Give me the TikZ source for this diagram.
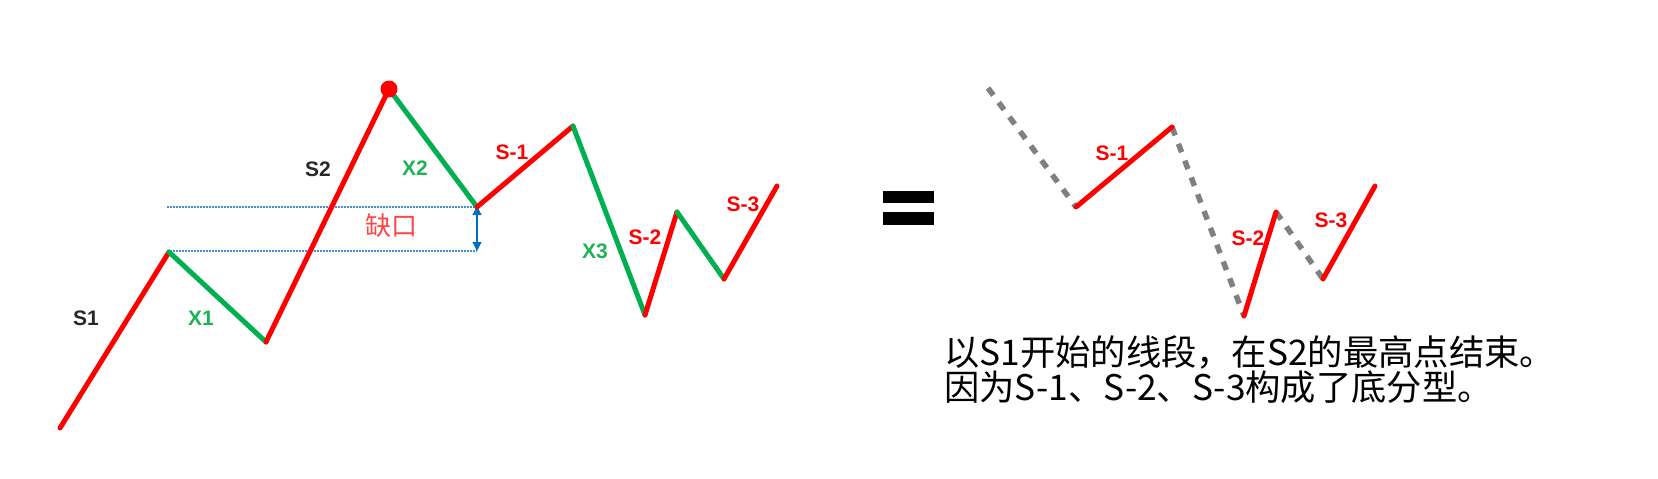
\documentclass[tikz,border=0pt]{standalone}
\usepackage{fontspec}
\setmainfont{Liberation Sans}
\newfontfamily\cjk{Noto Sans CJK SC}
\usetikzlibrary{arrows.meta}
\definecolor{lred}{RGB}{255,0,0}
\definecolor{lgreen}{RGB}{0,176,80}
\definecolor{tgreen}{RGB}{30,178,85}
\definecolor{tdark}{RGB}{40,40,40}
\definecolor{gapred}{RGB}{255,70,70}
\definecolor{dblue}{RGB}{0,112,192}
\definecolor{dotblue}{RGB}{70,140,215}
\definecolor{ghostgray}{RGB}{128,128,128}
\begin{document}
\begin{tikzpicture}[x=1pt,y=-1pt,
  upseg/.style={draw=lred,line width=5pt,line cap=round},
  downseg/.style={draw=lgreen,line width=5pt,line cap=round},
  ghostseg/.style={draw=ghostgray,line width=5.5pt,dash pattern=on 9pt off 9pt},
  gapline/.style={draw=dotblue,line width=1.3pt,dash pattern=on 1.5pt off 1.5pt},
  lab/.style={font=\fontsize{21}{21}\selectfont\bfseries,inner sep=0pt},
  blab/.style={lab,text=tdark},
  glab/.style={lab,text=tgreen},
  rlab/.style={lab,text=lred},
  note/.style={font=\cjk\fontsize{35.3}{35}\selectfont,inner sep=0pt,anchor=west}]
\useasboundingbox (0,0) rectangle (1658,479);
% left chart points
\coordinate (a0) at (60,428);
\coordinate (a1) at (169,252);
\coordinate (a2) at (266,342);
\coordinate (a3) at (389,89);
\coordinate (a4) at (477,207);
\coordinate (a5) at (573,126);
\coordinate (a6) at (645,315);
\coordinate (a7) at (677,212);
\coordinate (a8) at (724,279);
\coordinate (a9) at (777,186);
\coordinate (g1) at (167,207);
\coordinate (g2) at (167,251);
\coordinate (g3) at (477,251);
% gap lines
\draw[gapline] (g1) -- (a4);
\draw[gapline] (g2) -- (g3);
\draw[dblue,line width=1.2pt,{Triangle[length=9pt,width=9pt]}-{Triangle[length=9pt,width=9pt]}] ([yshift=1pt]a4) -- (g3);
% segments
\draw[upseg] (a0) -- (a1);
\draw[downseg] (a1) -- (a2);
\draw[upseg] (a2) -- (a3);
\draw[downseg] (a3) -- (a4);
\draw[upseg] (a4) -- (a5);
\draw[downseg] (a5) -- (a6);
\draw[upseg] (a6) -- (a7);
\draw[downseg] (a7) -- (a8);
\draw[upseg] (a8) -- (a9);
\fill[lred] (a3) circle (8.5pt);
% labels
\node[blab] (ls1) at (86,318) {S1};
\node[glab] (lx1) at (201,318) {X1};
\node[blab] (ls2) at (318,169) {S2};
\node[glab] (lx2) at (415,168) {X2};
\node[font=\cjk\fontsize{26}{26}\selectfont,text=gapred,inner sep=0pt] (lgap) at (391,226) {缺口};
\node[rlab] (lsm1) at (512,152) {S-1};
\node[glab] (lx3) at (595,251) {X3};
\node[rlab] (lsm2) at (645,237) {S-2};
\node[rlab] (lsm3) at (743,204) {S-3};
% equals sign
\fill[black] (883,191) rectangle (934,203);
\fill[black] (883,212) rectangle (934,225);
% right chart
\coordinate (b0) at (988,88);
\coordinate (b1) at (1076,207);
\coordinate (b2) at (1172,127);
\coordinate (b3) at (1244,316);
\coordinate (b4) at (1276,212);
\coordinate (b5) at (1323,279);
\coordinate (b6) at (1375,186);
\draw[ghostseg] (b0) -- (b1);
\draw[ghostseg] (b2) -- (b3);
\draw[ghostseg] (b4) -- (b5);
\draw[upseg] (b1) -- (b2);
\draw[upseg] (b3) -- (b4);
\draw[upseg] (b5) -- (b6);
\node[rlab] (rs1) at (1112,153) {S-1};
\node[rlab] (rs2) at (1248,238) {S-2};
\node[rlab] (rs3) at (1331,220) {S-3};
% note
\node[note] (n1) at (944,352) {以S1开始的线段，在S2的最高点结束。};
\node[note] (n2) at (944,387) {因为S-1、S-2、S-3构成了底分型。};
\end{tikzpicture}
\end{document}
